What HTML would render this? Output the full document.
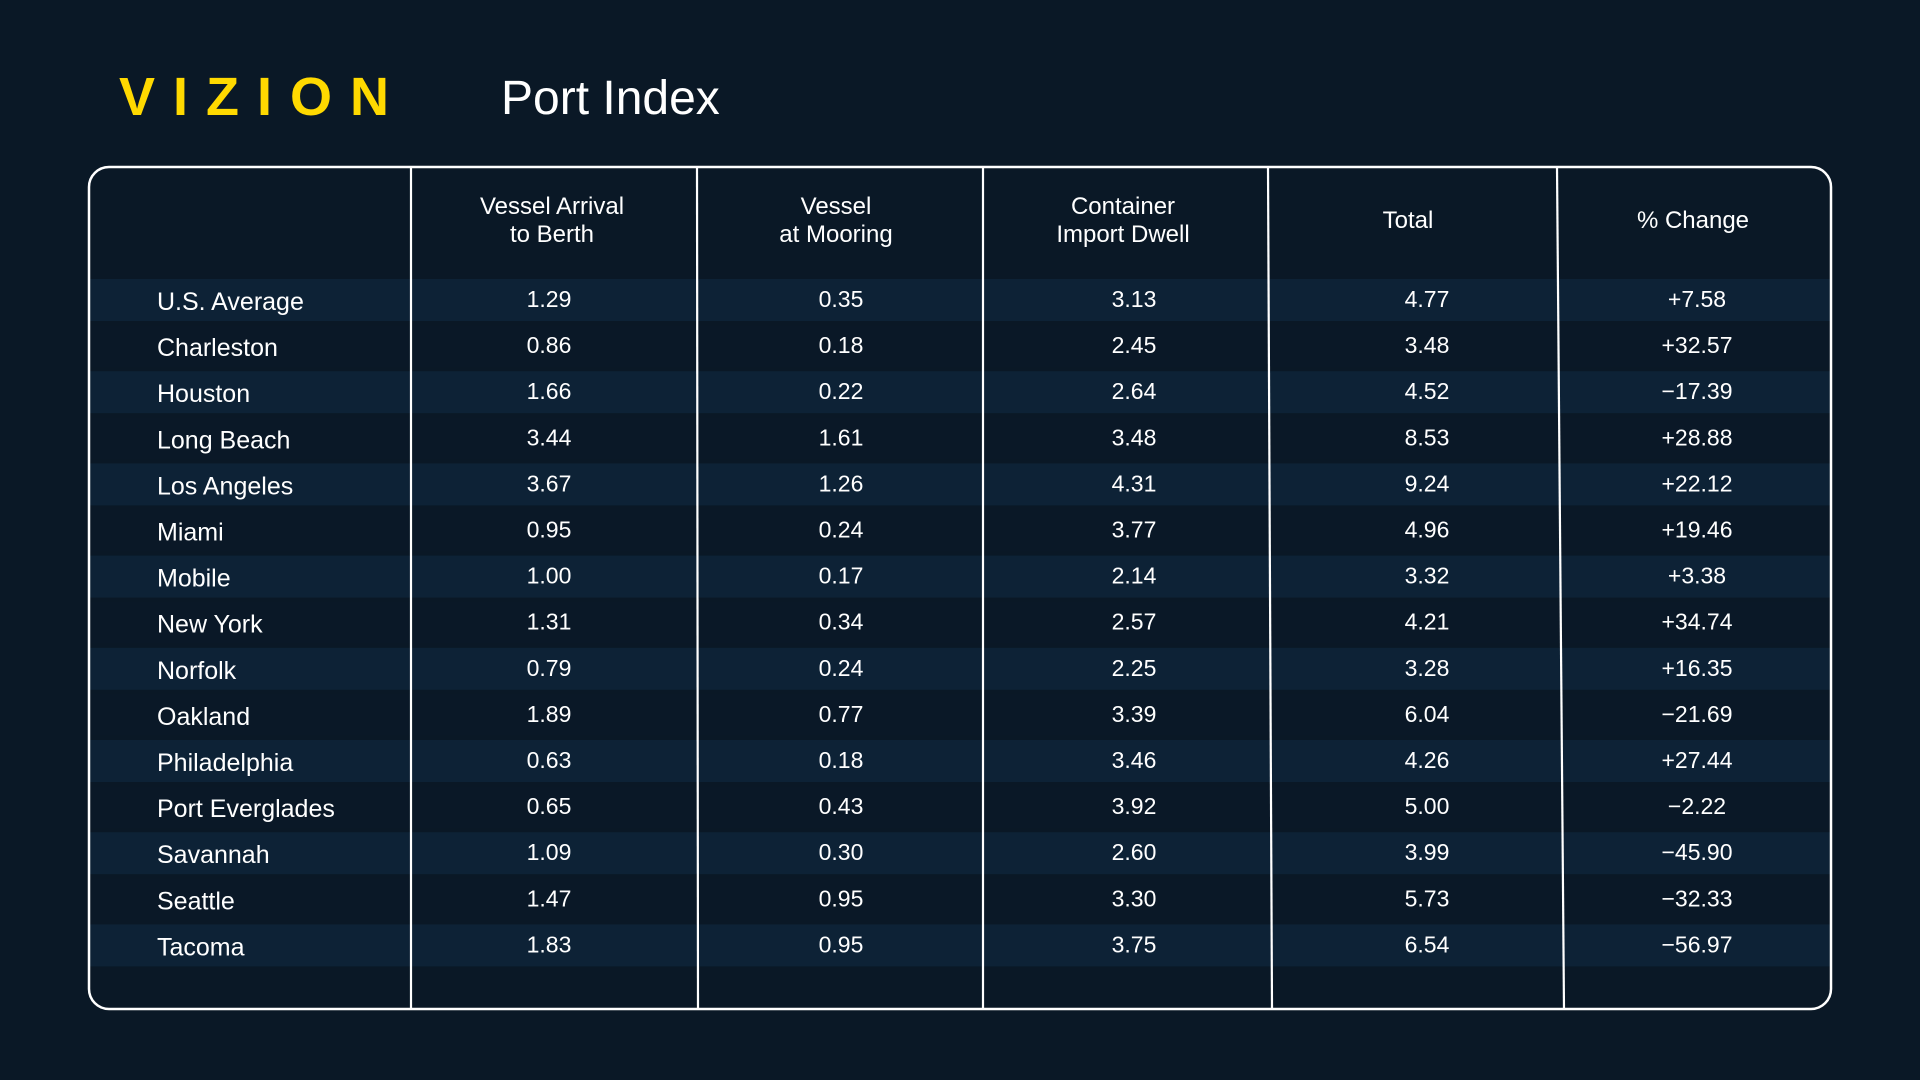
<!DOCTYPE html>
<html><head><meta charset="utf-8"><style>
html,body{margin:0;padding:0;background:#0a1826;}
svg{display:block;font-family:"Liberation Sans",sans-serif;}
</style></head><body>
<svg id="chart" width="1920" height="1080" viewBox="0 0 1920 1080">
<rect width="1920" height="1080" fill="#0a1826"/>
<text x="119" y="115" fill="#ffd900" font-size="54" font-weight="bold" letter-spacing="18">VIZION</text>
<text x="501" y="114" fill="#ffffff" font-size="48">Port Index</text>
<g id="bands"></g>
<g id="heads"></g>
<g id="cells"></g>
<g id="lines"></g>
<rect x="89" y="167" width="1742" height="842" rx="20" fill="none" stroke="#ffffff" stroke-width="2.5"/>
</svg>
<script>
const ports=["U.S. Average","Charleston","Houston","Long Beach","Los Angeles","Miami","Mobile","New York","Norfolk","Oakland","Philadelphia","Port Everglades","Savannah","Seattle","Tacoma"];
const arrival=["1.29","0.86","1.66","3.44","3.67","0.95","1.00","1.31","0.79","1.89","0.63","0.65","1.09","1.47","1.83"];
const mooring=["0.35","0.18","0.22","1.61","1.26","0.24","0.17","0.34","0.24","0.77","0.18","0.43","0.30","0.95","0.95"];
const dwell=["3.13","2.45","2.64","3.48","4.31","3.77","2.14","2.57","2.25","3.39","3.46","3.92","2.60","3.30","3.75"];
const total=["4.77","3.48","4.52","8.53","9.24","4.96","3.32","4.21","3.28","6.04","4.26","5.00","3.99","5.73","6.54"];
const change=["+7.58","+32.57","-17.39","+28.88","+22.12","+19.46","+3.38","+34.74","+16.35","-21.69","+27.44","-2.22","-45.90","-32.33","-56.97"];
const headers=[["Vessel Arrival","to Berth"],["Vessel","at Mooring"],["Container","Import Dwell"],["Total"],["% Change"]];

const NS="http://www.w3.org/2000/svg";
function mk(tag,attrs,parent){const e=document.createElementNS(NS,tag);for(const k in attrs)e.setAttribute(k,attrs[k]);parent.appendChild(e);return e;}
const rowY=i=>300+i*46.1;
const colX=[549,841,1134,1427,1697];
const headX=[552,836,1123,1408,1693];
const bands=document.getElementById('bands'),heads=document.getElementById('heads'),cells=document.getElementById('cells'),lines=document.getElementById('lines');
ports.forEach((p,i)=>{
  const b=mk('rect',{x:90,y:rowY(i)-21,width:1740,height:42,fill:i%2===0?'#0d2236':'#0a1827'},bands);
  
  
  const t=mk('text',{x:157,y:rowY(i)+10,fill:'#fff','font-size':25},cells);t.textContent=p;
  
  
  [arrival,mooring,dwell,total,change].forEach((arr,c)=>{
    const v=mk('text',{x:colX[c],y:rowY(i)+7,fill:'#fff','font-size':23,'text-anchor':'middle'},cells);
    v.textContent=arr[i].replace('-','\u2212');
    
    
  });
});
headers.forEach((h,c)=>{
  const y0=h.length===2?214:228;
  h.forEach((line,j)=>{
    const t=mk('text',{x:headX[c],y:y0+j*28,fill:'#fff','font-size':24,'text-anchor':'middle'},heads);
    t.textContent=line;
    
    
  });
});
[[411,411],[697,698],[983,983],[1268,1272],[1557,1564]].forEach(([a,b])=>{
  const l=mk('line',{x1:a,y1:167,x2:b,y2:1009,stroke:'#fff','stroke-width':2.2},lines);
  
  
});
</script>
</body></html>
